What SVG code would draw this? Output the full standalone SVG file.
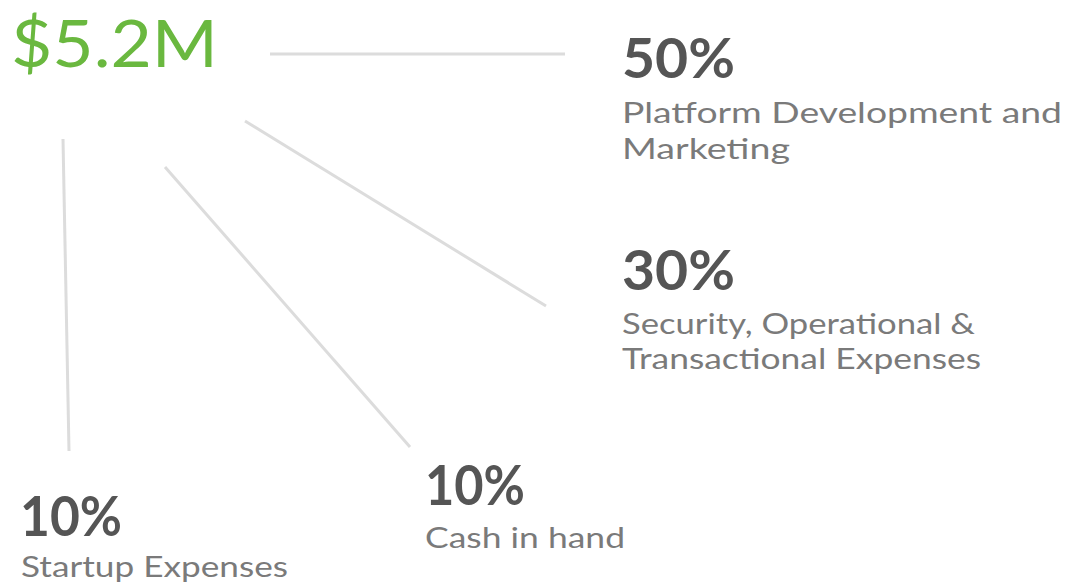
<svg xmlns="http://www.w3.org/2000/svg" width="1066" height="585" viewBox="0 0 1066 585">
<style>
.total{font-family:Lato,"Open Sans","Liberation Sans",sans-serif;font-size:66px;fill:#6ab83f}
.pct{font-family:Lato,"Open Sans","Liberation Sans",sans-serif;font-weight:700;font-size:56px;fill:#555555}
.lbl{font-family:Lato,"Open Sans","Liberation Sans",sans-serif;font-size:29px;fill:#7a7a7a}
.conn line{stroke:#dcdcdc;stroke-width:3;stroke-linecap:butt}
</style>
<rect width="1066" height="585" fill="#ffffff"/>
<g class="conn" id="connectors">
<line x1="270" y1="54" x2="565" y2="54"/>
<line x1="245" y1="121" x2="546" y2="306"/>
<line x1="165" y1="167" x2="410" y2="447"/>
<line x1="63" y1="139" x2="69" y2="451"/>
</g>
<g id="total"><text class="total" x="11" y="67" textLength="207" lengthAdjust="spacingAndGlyphs">$5.2M</text></g>
<g id="platform">
<text class="pct" x="622" y="78" textLength="113" lengthAdjust="spacingAndGlyphs">50%</text>
<text class="lbl" x="622" y="123" textLength="440" lengthAdjust="spacingAndGlyphs">Platform Development and</text>
<text class="lbl" x="622" y="159" textLength="168" lengthAdjust="spacingAndGlyphs">Marketing</text>
</g>
<g id="security">
<text class="pct" x="622" y="290" textLength="113" lengthAdjust="spacingAndGlyphs">30%</text>
<text class="lbl" x="622" y="334" textLength="353" lengthAdjust="spacingAndGlyphs">Security, Operational &amp;</text>
<text class="lbl" x="622" y="369" textLength="359" lengthAdjust="spacingAndGlyphs">Transactional Expenses</text>
</g>
<g id="cash">
<text class="pct" x="425" y="505" textLength="100" lengthAdjust="spacingAndGlyphs">10%</text>
<text class="lbl" x="425" y="548" textLength="200" lengthAdjust="spacingAndGlyphs">Cash in hand</text>
</g>
<g id="startup">
<text class="pct" x="20" y="536" textLength="102" lengthAdjust="spacingAndGlyphs">10%</text>
<text class="lbl" x="21" y="577" textLength="267" lengthAdjust="spacingAndGlyphs">Startup Expenses</text>
</g>
</svg>
